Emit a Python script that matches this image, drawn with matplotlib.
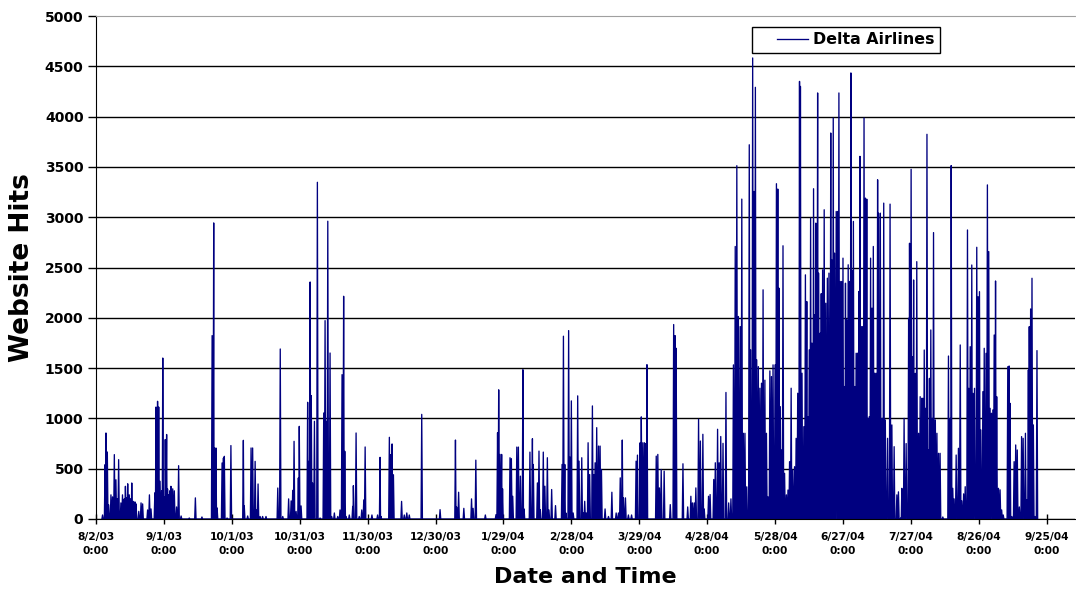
import matplotlib.pyplot as plt
from matplotlib.legend_handler import HandlerLine2D
import numpy as np
import pandas as pd

plt.rcParams['font.family'] = ['DejaVu Sans']
plt.rcParams['font.weight'] = 'bold'

start = pd.Timestamp("2003-08-02")
tick_dates = ["8/2/03", "9/1/03", "10/1/03", "10/31/03", "11/30/03", "12/30/03",
              "1/29/04", "2/28/04", "3/29/04", "4/28/04", "5/28/04", "6/27/04",
              "7/27/04", "8/26/04", "9/25/04"]

# hit peaks: (days since 8/2/03 0:00, hits)
aug_oct_03 = [(2.9, 40), (4.0, 540), (4.4, 855), (5.0, 666), (5.6, 140),
              (6.6, 240), (7.3, 220), (8.1, 640), (8.8, 390), (9.4, 200), (10.0, 590),
              (11.0, 160), (11.7, 240), (12.5, 200), (13.0, 325), (13.5, 210), (14.0, 350),
              (14.7, 240), (15.3, 200), (15.8, 358), (16.5, 175), (17.2, 170), (17.7, 150),
              (18.9, 76), (19.9, 160), (20.6, 150), (22.8, 90), (23.6, 240), (24.3, 100),
              (26.0, 260), (26.5, 1113), (27.2, 1170), (27.7, 1113), (28.3, 375), (29.0, 280),
              (29.5, 1600), (30.2, 220), (30.6, 790), (31.2, 840), (31.6, 300), (32.1, 240),
              (32.6, 280), (33.1, 325), (33.9, 300), (34.6, 280), (35.6, 120), (36.5, 530),
              (37.6, 30), (41.2, 10), (43.9, 210), (46.8, 20),
              (51.3, 1823), (52.0, 2943), (52.3, 706), (53.0, 706), (53.5, 110),
              (55.7, 557), (56.3, 606), (56.7, 623), (57.9, 10), (59.6, 730),
              (65.1, 782), (65.5, 130), (67.0, 30),
              (68.5, 706), (69.2, 706), (70.3, 573), (71.0, 90), (71.6, 348), (72.5, 25),
              (73.6, 25), (75.1, 25)]

nov_dec_03 = [(80.3, 308), (81.4, 1690), (82.5, 25),
              (85.1, 200), (86.2, 180), (86.9, 285), (87.5, 772), (88.4, 75), (89.4, 408),
              (89.8, 921), (90.6, 130),
              (93.5, 1160), (94.0, 573), (94.6, 2356), (95.1, 1226), (95.7, 358), (96.5, 971),
              (97.8, 3347), (99.0, 10),
              (100.6, 1054), (101.2, 1972), (101.8, 971), (102.4, 2960), (103.4, 1650),
              (104.1, 25), (105.3, 60),
              (106.8, 25), (107.8, 90), (108.7, 1435), (109.4, 2214), (109.9, 673), (110.5, 25),
              (111.9, 40), (113.4, 125), (113.7, 331), (114.9, 855), (116.3, 25), (117.4, 90),
              (118.3, 190), (118.9, 716),
              (121.9, 40), (124.4, 40), (125.5, 613), (125.9, 25),
              (129.6, 812), (130.3, 640), (130.8, 746), (131.4, 440),
              (135.0, 175), (136.2, 40), (137.3, 60), (138.4, 40), (143.9, 1040)]

jan_apr_04 = [(152.0, 93), (158.8, 785), (159.3, 120), (160.2, 266), (162.5, 106),
              (165.9, 200), (166.6, 106), (167.8, 585),
              (172.0, 40), (176.7, 43), (177.4, 858), (177.9, 1284), (178.5, 642), (179.2, 642),
              (179.6, 300), (182.9, 609), (183.5, 600), (184.1, 226), (185.9, 715), (186.6, 715),
              (187.5, 426), (188.6, 1484), (189.1, 100),
              (191.7, 665), (192.8, 798), (193.2, 542),
              (195.0, 359), (195.7, 675), (196.3, 93), (197.6, 665), (198.3, 326), (199.4, 609),
              (200.1, 90), (201.3, 293), (203.0, 133),
              (205.9, 542), (206.5, 1817), (207.1, 542), (207.6, 60), (208.8, 1873), (209.4, 615),
              (210.0, 1174), (210.8, 60),
              (212.8, 1224), (213.4, 575), (214.6, 609), (215.3, 60), (215.9, 176), (216.6, 60),
              (217.4, 758), (218.1, 442), (219.3, 1124), (219.9, 442), (220.5, 559), (221.2, 908),
              (222.0, 725), (222.7, 725), (223.3, 492), (224.9, 100), (226.4, 25),
              (227.9, 266), (229.8, 60), (230.8, 60), (231.6, 409), (232.5, 785), (233.0, 210),
              (233.9, 210), (235.2, 40), (236.6, 40),
              (238.6, 575), (239.2, 635), (240.4, 758), (240.9, 1015), (241.6, 758), (242.3, 758),
              (242.9, 750), (243.4, 1534),
              (247.5, 625), (248.2, 642), (248.9, 309), (249.7, 492), (251.0, 476),
              (253.7, 143), (255.2, 1933), (255.8, 1823), (256.3, 1697),
              (259.3, 549), (261.4, 120),
              (262.8, 226), (263.5, 160), (264.3, 160), (265.0, 309), (266.2, 991), (267.0, 775),
              (268.1, 842), (268.7, 100)]

may_jul_04 = [(270.6, 226), (271.3, 243), (272.9, 393), (273.6, 559), (274.6, 892), (275.3, 559),
              (276.0, 820), (277.0, 752), (278.3, 1258), (279.5, 160),
              (280.5, 200), (281.6, 1532), (282.4, 2709), (283.1, 3512), (283.8, 2013),
              (284.6, 1913), (285.3, 3180), (286.0, 852), (286.7, 852), (287.5, 320),
              (288.6, 3720), (289.2, 1681), (290.1, 4583), (290.7, 3256), (291.3, 4291),
              (291.9, 1582), (292.6, 1515), (293.3, 1300), (294.0, 1350), (294.7, 2278),
              (295.5, 1380), (296.2, 852), (296.9, 220), (297.7, 1472), (298.4, 1416),
              (299.1, 1532), (300.0, 1532), (300.6, 3333), (301.2, 3280), (301.7, 2295),
              (302.3, 1117), (302.9, 686), (303.5, 2716), (304.2, 454), (305.0, 240),
              (305.7, 288), (306.4, 570), (307.1, 1300), (307.8, 487), (308.6, 520),
              (309.3, 802), (310.0, 1250), (310.8, 4350), (311.2, 4300), (311.9, 1449),
              (312.7, 918), (313.4, 2427), (314.0, 2162), (314.5, 1018), (315.1, 1681),
              (315.7, 2991), (316.3, 1748), (317.0, 3283), (317.6, 2030), (318.0, 2941),
              (318.8, 4235), (319.2, 2444), (319.9, 1847), (320.4, 2240), (321.0, 2477),
              (321.7, 3074), (322.4, 2145), (323.1, 2394), (323.8, 2444), (324.6, 3837),
              (325.0, 2577), (325.7, 3986), (326.3, 2643), (327.0, 3057), (327.6, 3057),
              (328.2, 4235), (328.8, 2361), (329.4, 2361), (330.0, 2593), (330.6, 1317),
              (331.1, 2344), (331.6, 1980), (332.3, 2527), (332.9, 2361), (333.5, 4434),
              (334.0, 2470), (334.6, 2958), (335.2, 1317), (335.8, 1648), (336.4, 1648),
              (337.0, 2262), (337.5, 3605), (338.1, 1913), (338.7, 1913), (339.3, 3986),
              (339.9, 3190), (340.5, 3180), (341.0, 1000), (341.6, 1017), (342.2, 2593),
              (342.8, 2096), (343.4, 2709), (344.0, 1449), (344.6, 1449), (345.3, 3372),
              (345.7, 3040), (346.5, 3040), (347.3, 1000), (348.0, 3140), (348.7, 985),
              (349.7, 802), (350.8, 3130), (351.6, 935), (352.6, 719), (353.8, 240),
              (354.5, 270), (355.5, 10)]

jul_sep_04 = [(356.0, 305), (357.0, 1000), (357.9, 750), (359.0, 1995), (359.4, 2741),
              (360.1, 3476), (360.7, 1614), (361.2, 2376), (361.9, 1448), (362.6, 2558),
              (363.4, 852), (364.1, 1216), (364.8, 1200), (365.3, 1200), (365.9, 1680),
              (366.5, 1100), (367.1, 3824), (367.7, 686), (368.2, 1398), (368.8, 1879),
              (369.4, 1000), (370.0, 2847), (370.8, 985), (371.5, 852), (372.2, 653),
              (372.9, 653), (374.1, 20),
              (376.6, 1620), (377.4, 1000), (377.8, 3513), (378.5, 305), (379.1, 200),
              (380.0, 636), (381.0, 703), (381.8, 1730), (382.5, 180), (383.3, 250),
              (384.0, 321), (385.0, 2873), (385.6, 1299), (386.2, 1713), (386.9, 2525),
              (387.5, 1249), (388.1, 1299), (389.1, 2701), (389.7, 2210), (390.3, 2260),
              (390.9, 885), (391.8, 1266), (392.4, 1697), (393.2, 1647), (393.8, 3321),
              (394.4, 2658), (395.0, 1100), (395.6, 1051), (396.2, 1084), (396.8, 1829),
              (397.4, 2366), (397.9, 1216), (398.7, 305), (399.4, 290), (400.1, 90),
              (400.8, 40),
              (402.8, 1514), (403.4, 1521), (403.8, 1150), (404.6, 25), (405.6, 570),
              (406.3, 736), (407.0, 686), (407.9, 120), (408.9, 819), (409.6, 802),
              (410.6, 852), (411.2, 190), (411.9, 1481), (412.3, 1912), (412.9, 2088),
              (413.5, 2393), (414.1, 935), (414.8, 25), (415.7, 1674)]

peaks = sorted(aug_oct_03 + nov_dec_03 + jan_apr_04 + may_jul_04 + jul_sep_04)

# line drops back to zero between the peaks
t = []
v = []
prev = None
for d, h in peaks:
    if prev is None:
        t.append(d - 0.3)
        v.append(0)
    else:
        half = min(0.3, (d - prev) / 2)
        t += [prev + half, d - half]
        v += [0, 0]
    t.append(d)
    v.append(h)
    prev = d
t.append(prev + 0.3)
v.append(0)

tick_pos = [(pd.to_datetime(s, format="%m/%d/%y") - start).days for s in tick_dates]
tick_lab = [s + "\n0:00" for s in tick_dates]

fig = plt.figure(figsize=(10.76, 5.96), dpi=100)
ax = fig.add_axes([96 / 1076, 77 / 596, 979 / 1076, 503 / 596])

ax.plot(t, v, color='#000080', lw=0.95, label='Delta Airlines')

ax.set_xlim(0, 432.5)
ax.set_ylim(0, 5000)
ax.set_yticks(np.arange(0, 5001, 500))
ax.set_xticks(tick_pos)
ax.set_xticklabels(tick_lab, fontsize=7.7, fontweight='bold', linespacing=1.5)
ax.tick_params(axis='y', labelsize=10, direction='out', length=6, width=1, pad=3)
ax.tick_params(axis='x', direction='inout', length=7, width=1, pad=6)

ax.yaxis.grid(True, color='black', lw=1)
ax.get_ygridlines()[-1].set_visible(False)
ax.set_axisbelow(True)

ax.spines['right'].set_visible(False)
ax.spines['top'].set_color('#a0a0a0')
ax.spines['top'].set_linestyle((0, (1, 1)))

ax.set_ylabel('Website Hits', fontsize=19, fontweight='bold', labelpad=7)
ax.set_xlabel('Date and Time', fontsize=16, fontweight='bold', labelpad=8)

leg = ax.legend(loc='upper left', bbox_to_anchor=(0.670, 0.979), fontsize=11.4,
                frameon=True, fancybox=False, edgecolor='black', framealpha=1,
                handlelength=3.2, handletextpad=0.3, borderpad=0.35, borderaxespad=0,
                handler_map={plt.Line2D: HandlerLine2D(xpad=1.25)})
leg.get_frame().set_linewidth(1)

fig.savefig('out.png', dpi=100)
